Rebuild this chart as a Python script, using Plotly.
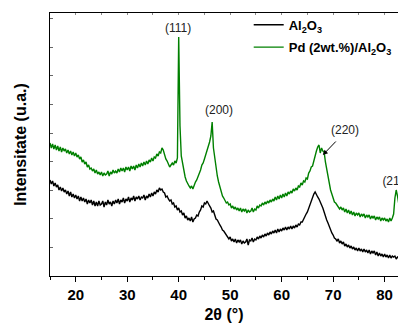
import numpy as np
import plotly.graph_objects as go

# 2-theta sampling grid (degrees), 0.25 deg steps
two_theta = np.round(np.arange(15.0, 82.76, 0.25), 2)

# Al2O3 intensity (a.u.)
al2o3 = [
    96, 92, 95, 90,  93, 89, 91, 86,  89, 85, 88, 84,  86, 82, 85, 80,
    84, 79, 82, 78,  81, 77, 80, 75,  79, 75, 78, 74,  77, 72, 76, 73,
    76, 71, 75, 70,  74, 70, 75, 71,  72, 75, 69, 74,  71, 76, 72, 74,
    70, 75, 72, 76,  73, 77, 72, 76,  74, 78, 73, 77,  75, 79, 74, 78,
    76, 80, 75, 79,  77, 80, 76, 79,  78, 81, 76, 80,  78, 82, 79, 83,
    80, 84, 82, 86,  84, 88, 86, 87,  84, 83, 79, 80,  77, 75, 76, 72,
    73, 69, 70, 66,  68, 64, 65, 61,  63, 58, 60, 56,  58, 55, 59, 54,
    57, 58, 61, 60,  64, 66, 70, 69,  73, 72, 75, 72,  70, 68, 64, 65,
    61, 57, 56, 53,  51, 49, 46, 45,  43, 41, 40, 37,  39, 35, 37, 34,
    37, 33, 36, 34,  36, 32, 35, 33,  34, 37, 31, 36,  35, 38, 34, 37,
    36, 39, 37, 40,  38, 41, 39, 42,  40, 43, 41, 44,  42, 45, 43, 46,
    43, 47, 44, 47,  45, 48, 46, 49,  46, 49, 47, 50,  47, 50, 48, 51,
    49, 52, 51, 54,  54, 57, 60, 62,  64, 68, 72, 75,  78, 82, 84, 81,
    79, 77, 73, 71,  68, 63, 59, 56,  53, 49, 45, 43,  41, 38, 37, 35,
    37, 33, 35, 32,  34, 30, 32, 29,  31, 28, 30, 27,  29, 26, 28, 25,
    28, 25, 27, 24,  27, 24, 26, 23,  26, 22, 25, 23,  25, 21, 24, 20,
    23, 20, 22, 19,  22, 19, 21, 18,  21, 18, 20, 19,  20, 17, 19, 18,
]

# Pd (2wt.%)/Al2O3 intensity (a.u.)
pd_al2o3 = [
    133, 128, 132, 127,  131, 126, 130, 125,  129, 124, 128, 125,  127, 123, 126, 122,
    125, 121, 124, 120,  123, 119, 121, 117,  119, 114, 116, 112,  114, 109, 111, 107,
    108, 105, 107, 103,  106, 102, 104, 101,  104, 100, 103, 101,  102, 105, 100, 104,
    102, 106, 103, 105,  103, 107, 104, 108,  105, 108, 104, 109,  106, 109, 105, 110,
    107, 110, 106, 111,  108, 112, 109, 113,  110, 114, 111, 115,  112, 116, 114, 118,
    115, 119, 118, 122,  120, 124, 123, 128,  126, 121, 117, 115,  112, 109, 111, 113,
    111, 115, 113, 118,  239, 150, 120, 112,  104, 99, 95, 92,  90, 88, 90, 87,
    91, 94, 96, 99,  103, 106, 111, 113,  117, 121, 126, 129,  134, 140, 154, 128,
    118, 108, 100, 94,  89, 84, 80, 78,  76, 73, 74, 71,  72, 68, 70, 67,
    69, 66, 68, 65,  68, 64, 67, 65,  67, 63, 66, 64,  65, 68, 64, 67,
    66, 70, 68, 71,  70, 73, 71, 74,  72, 75, 73, 76,  74, 77, 75, 79,
    76, 80, 77, 81,  78, 82, 79, 83,  80, 84, 82, 85,  83, 87, 85, 88,
    86, 90, 89, 93,  91, 95, 94, 98,  97, 103, 105, 109,  110, 116, 122, 125,
    129, 131, 123, 128,  125, 124, 114, 106,  98, 92, 86, 82,  78, 74, 73, 71,
    70, 67, 69, 66,  68, 64, 67, 63,  66, 62, 65, 61,  64, 60, 63, 61,
    63, 59, 62, 60,  62, 58, 61, 59,  61, 57, 60, 58,  60, 56, 59, 57,
    59, 55, 58, 56,  58, 55, 57, 54,  58, 55, 58, 62,  78, 86, 80, 72,
]

series_names = ["<b>Al<sub>2</sub>O<sub>3</sub></b>",
                "<b>Pd (2wt.%)/Al<sub>2</sub>O<sub>3</sub></b>"]
peak_labels = ["(111)", "(200)", "(220)"]
peak_label_x = [39.85, 47.8, 72.3]
peak_label_y = [248, 166, 146]
edge_label = ["(211)"]
edge_label_x = [82.2]
edge_label_y = [94]

FONT = "Liberation Sans, Arial, sans-serif"

fig = go.Figure()
fig.add_trace(go.Scatter(x=two_theta, y=al2o3, mode="lines", name=series_names[0],
                         line=dict(color="#000000", width=1.4), legend="legend"))
fig.add_trace(go.Scatter(x=two_theta, y=pd_al2o3, mode="lines", name=series_names[1],
                         line=dict(color="#008000", width=1.4), legend="legend2"))
# peak label cut by the plot edge (clipped to the plotting area)
fig.add_trace(go.Scatter(x=edge_label_x, y=edge_label_y, mode="text", text=edge_label,
                         textposition="middle center", cliponaxis=True,
                         textfont=dict(family=FONT, size=12, color="#222222"),
                         showlegend=False, hoverinfo="skip"))
# dummy trace to carry the top tick axis
fig.add_trace(go.Scatter(x=[], y=[], xaxis="x2", showlegend=False, hoverinfo="skip"))

x_range = [15, 82.6]

annotations = []
for t, xx, yy in zip(peak_labels, peak_label_x, peak_label_y):
    annotations.append(dict(x=xx, y=yy, xref="x", yref="y", text=t, showarrow=False,
                            font=dict(family=FONT, size=12, color="#222222")))
# arrow for (220)
annotations.append(dict(x=68.0, y=121, xref="x", yref="y", ax=70.8, ay=136,
                        axref="x", ayref="y", text="", showarrow=True,
                        arrowhead=2, arrowsize=1, arrowwidth=1, arrowcolor="#000000"))

legend_common = dict(xanchor="left", yanchor="middle",
                     font=dict(family=FONT, size=13), bgcolor="rgba(0,0,0,0)",
                     itemwidth=30)

fig.update_layout(
    width=398, height=324,
    margin=dict(l=50, r=0, t=13, b=48, autoexpand=False),
    plot_bgcolor="white", paper_bgcolor="white",
    font=dict(family=FONT, color="#000000"),
    xaxis=dict(range=x_range, dtick=10, tick0=0, ticks="outside", ticklen=5,
               tickwidth=1, tickcolor="#000000", showline=True, linecolor="#000000",
               linewidth=1.3, mirror=True, showgrid=False, zeroline=False,
               tickfont=dict(family=FONT, size=15, weight="bold"),
               minor=dict(ticks="outside", ticklen=3, dtick=5, tick0=0,
                          tickcolor="#000000", showgrid=False),
               title=dict(text="<b>2θ (°)</b>", font=dict(family=FONT, size=16),
                          standoff=6)),
    xaxis2=dict(range=x_range, overlaying="x", side="top", anchor="y",
                dtick=5, tick0=0, ticks="inside", ticklen=2, tickcolor="#888888",
                showticklabels=False, showline=False, showgrid=False, zeroline=False),
    yaxis=dict(range=[0, 263], dtick=28.6, tick0=0, ticks="inside", ticklen=3,
               tickcolor="#666666", showticklabels=False, showline=True,
               linecolor="#000000", linewidth=1.3, mirror=False, showgrid=False,
               zeroline=False,
               title=dict(text="<b>Intensitate (u.a.)</b>",
                          font=dict(family=FONT, size=16), standoff=18)),
    legend=dict(x=0.571, y=0.955, **legend_common),
    legend2=dict(x=0.571, y=0.87, **legend_common),
    annotations=annotations,
)

fig.write_html("out.html")
